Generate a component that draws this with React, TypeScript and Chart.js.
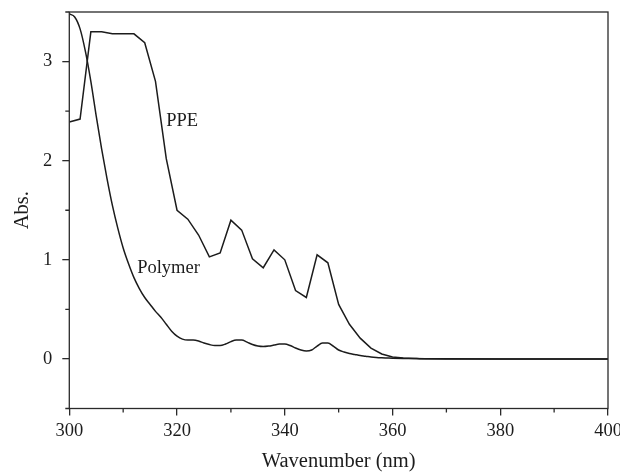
import React, { useEffect, useRef } from "react";
import { Chart, registerables } from "chart.js";

Chart.register(...registerables);

// PPE series (straight segments)
const PPE_X = [300, 302, 304, 306, 308, 310, 312, 314, 316, 318, 320, 322, 324, 326, 328, 330, 332, 334, 336, 338, 340, 342, 344, 346, 348, 350, 352, 354, 356, 358, 360, 362, 364, 366, 370, 380, 390, 400];
const PPE_Y = [2.39, 2.42, 3.3, 3.3, 3.28, 3.28, 3.28, 3.19, 2.8, 2.02, 1.5, 1.41, 1.25, 1.03, 1.07, 1.4, 1.3, 1.01, 0.92, 1.1, 1.0, 0.69, 0.62, 1.05, 0.97, 0.55, 0.35, 0.21, 0.11, 0.05, 0.02, 0.01, 0.005, 0.002, 0, 0, 0, 0];

// Polymer series (smooth)
const POLY_X = [300, 301, 302, 303, 304, 305, 306, 307, 308, 309, 310, 311, 312, 313, 314, 315, 316, 317, 318, 319, 320, 321, 322, 323, 324, 325, 326, 327, 328, 329, 330, 331, 332, 333, 334, 335, 336, 337, 338, 339, 340, 341, 342, 343, 344, 345, 346, 347, 348, 349, 350, 351, 352, 353, 354, 355, 356, 357, 358, 359, 360, 362, 365, 370, 380, 390, 400];
const POLY_Y = [3.48, 3.45, 3.33, 3.1, 2.8, 2.45, 2.12, 1.82, 1.55, 1.32, 1.12, 0.96, 0.82, 0.71, 0.62, 0.55, 0.48, 0.42, 0.35, 0.28, 0.23, 0.2, 0.19, 0.19, 0.18, 0.16, 0.145, 0.135, 0.135, 0.15, 0.175, 0.19, 0.19, 0.17, 0.145, 0.13, 0.125, 0.13, 0.14, 0.15, 0.15, 0.135, 0.11, 0.09, 0.08, 0.09, 0.13, 0.16, 0.16, 0.13, 0.09, 0.07, 0.055, 0.045, 0.035, 0.028, 0.02, 0.015, 0.012, 0.01, 0.008, 0.005, 0.003, 0.001, 0, 0, 0];

const X_TICKS = [300, 320, 340, 360, 380, 400];
const X_MINOR = [310, 330, 350, 370, 390];
const Y_TICKS = [0, 1, 2, 3];
const Y_MINOR = [-0.5, 0.5, 1.5, 2.5, 3.5];

const LABELS = ["PPE", "Polymer"];
const LABEL_X = [318, 312.6];
const LABEL_Y = [2.4, 0.92];

const FONT = "'Liberation Serif', 'Times New Roman', serif";
const INK = "#1c1c1c";

export default function App() {
  const ref = useRef<HTMLCanvasElement | null>(null);

  useEffect(() => {
    document.body.style.margin = "0";
    const canvas = ref.current;
    if (!canvas) return;

    const framePlugin = {
      id: "frameAndNotes",
      afterDraw(chart: any) {
        const { ctx, chartArea } = chart;
        const xs = chart.scales.x;
        const ys = chart.scales.y;
        ctx.save();
        ctx.strokeStyle = "#2a2a2a";
        ctx.lineWidth = 1.3;
        ctx.strokeRect(chartArea.left, chartArea.top, chartArea.right - chartArea.left, chartArea.bottom - chartArea.top);
        // minor ticks
        ctx.beginPath();
        X_MINOR.forEach((v) => {
          const px = xs.getPixelForValue(v);
          ctx.moveTo(px, chartArea.bottom);
          ctx.lineTo(px, chartArea.bottom + 4);
        });
        Y_MINOR.forEach((v) => {
          const py = ys.getPixelForValue(v);
          ctx.moveTo(chartArea.left, py);
          ctx.lineTo(chartArea.left - 4, py);
        });
        ctx.stroke();
        // annotations
        ctx.fillStyle = INK;
        ctx.font = `18.5px ${FONT}`;
        ctx.textAlign = "left";
        ctx.textBaseline = "middle";
        LABELS.forEach((t, i) => {
          ctx.fillText(t, xs.getPixelForValue(LABEL_X[i]), ys.getPixelForValue(LABEL_Y[i]));
        });
        ctx.restore();
      },
    };

    const chart = new Chart(canvas, {
      type: "line",
      data: {
        datasets: [
          {
            label: "PPE",
            data: PPE_X.map((x, i) => ({ x, y: PPE_Y[i] })),
            borderColor: INK,
            borderWidth: 1.5,
            pointRadius: 0,
            tension: 0,
            fill: false,
          },
          {
            label: "Polymer",
            data: POLY_X.map((x, i) => ({ x, y: POLY_Y[i] })),
            borderColor: INK,
            borderWidth: 1.5,
            pointRadius: 0,
            cubicInterpolationMode: "monotone",
            fill: false,
          },
        ],
      },
      options: {
        responsive: false,
        animation: false,
        layout: { padding: { top: 12, right: 12, left: 0, bottom: 0 } },
        plugins: { legend: { display: false }, tooltip: { enabled: false } },
        scales: {
          x: {
            type: "linear",
            min: 300,
            max: 400,
            afterBuildTicks: (s: any) => {
              s.ticks = X_TICKS.map((v) => ({ value: v }));
            },
            afterFit: (s: any) => {
              s.height = 63.5;
              s.paddingLeft = 0;
              s.paddingRight = 0;
            },
            grid: { drawOnChartArea: false, drawTicks: true, tickLength: 7, color: "#2a2a2a", lineWidth: 1.3 },
            border: { display: false },
            ticks: { color: INK, font: { family: FONT, size: 18.5 }, padding: 5, maxRotation: 0, autoSkip: false },
            title: { display: true, text: "Wavenumber (nm)", color: INK, font: { family: FONT, size: 20.5, lineHeight: 1 }, padding: { top: 0, bottom: 0 } },
          },
          y: {
            type: "linear",
            min: -0.5,
            max: 3.5,
            afterBuildTicks: (s: any) => {
              s.ticks = Y_TICKS.map((v) => ({ value: v }));
            },
            afterFit: (s: any) => {
              s.width = 69.3;
              s.paddingTop = 0;
              s.paddingBottom = 0;
            },
            grid: { drawOnChartArea: false, drawTicks: true, tickLength: 7, color: "#2a2a2a", lineWidth: 1.3 },
            border: { display: false },
            ticks: { color: INK, font: { family: FONT, size: 18.5 }, padding: 10 },
            title: { display: true, text: "Abs.", color: INK, font: { family: FONT, size: 20.5, lineHeight: 1 }, padding: { top: 12, bottom: 0 } },
          },
        },
      },
      plugins: [framePlugin],
    } as any);

    return () => chart.destroy();
  }, []);

  return (
    <div style={{ position: "absolute", left: 0, top: 0, width: 620, height: 472 }}>
      <canvas ref={ref} width={620} height={472} />
    </div>
  );
}
